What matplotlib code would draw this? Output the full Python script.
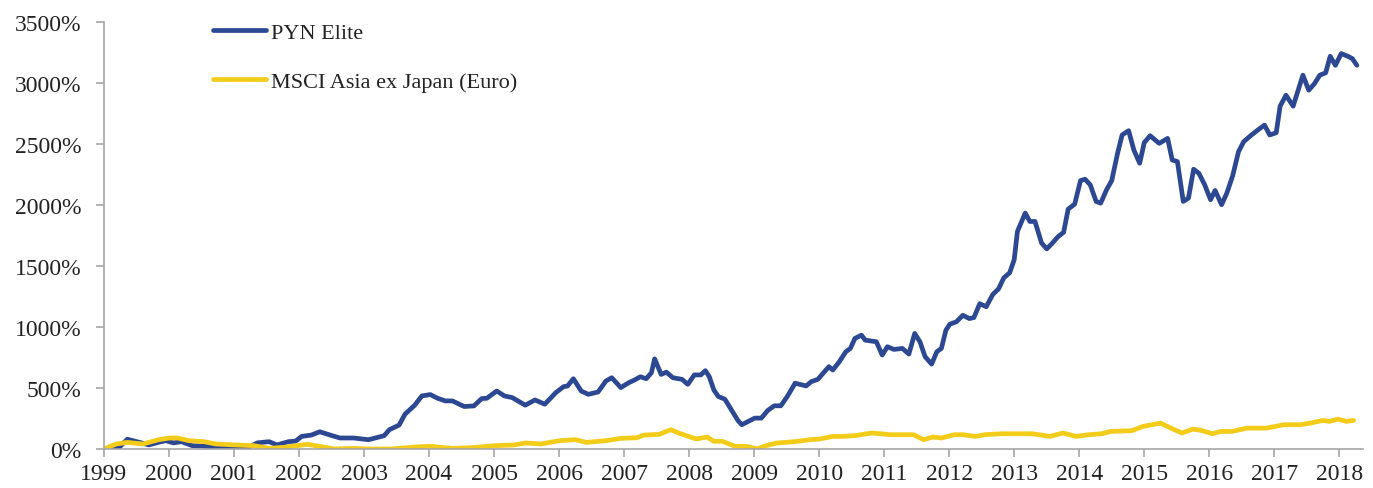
import numpy as np
import matplotlib
matplotlib.use("Agg")
import matplotlib.pyplot as plt
from matplotlib.ticker import FuncFormatter

# PYN Elite cumulative return (%)
pyn_t = [1999.00, 1999.22, 1999.36, 1999.54, 1999.69, 1999.84, 1999.95, 2000.07, 2000.19, 2000.36,
         2000.54, 2000.72, 2000.89, 2001.01, 2001.19, 2001.36, 2001.54, 2001.66, 2001.84, 2001.95,
         2002.04, 2002.19, 2002.32, 2002.48, 2002.63, 2002.84, 2003.07, 2003.31, 2003.39, 2003.54,
         2003.63, 2003.78, 2003.89, 2004.02, 2004.13, 2004.25, 2004.36, 2004.54, 2004.69, 2004.81,
         2004.89, 2005.04, 2005.16, 2005.28, 2005.48, 2005.63, 2005.78, 2005.95, 2006.07, 2006.13,
         2006.22, 2006.34, 2006.45, 2006.60, 2006.72, 2006.81, 2006.95, 2007.07, 2007.16, 2007.25,
         2007.34, 2007.42, 2007.47, 2007.57, 2007.65, 2007.75, 2007.89, 2007.98, 2008.08, 2008.18,
         2008.25, 2008.31, 2008.38, 2008.45, 2008.55, 2008.65, 2008.75, 2008.81, 2008.91, 2009.01,
         2009.11, 2009.21, 2009.31, 2009.41, 2009.51, 2009.63, 2009.80, 2009.88, 2009.98, 2010.15,
         2010.21, 2010.31, 2010.41, 2010.48, 2010.55, 2010.65, 2010.71, 2010.88, 2010.97, 2011.05,
         2011.15, 2011.28, 2011.38, 2011.47, 2011.55, 2011.63, 2011.73, 2011.81, 2011.88, 2011.95,
         2012.01, 2012.11, 2012.21, 2012.31, 2012.38, 2012.47, 2012.57, 2012.67, 2012.76, 2012.84,
         2012.93, 2013.00, 2013.05, 2013.17, 2013.24, 2013.32, 2013.42, 2013.50, 2013.58, 2013.67,
         2013.76, 2013.83, 2013.93, 2014.02, 2014.09, 2014.17, 2014.26, 2014.33, 2014.42, 2014.50,
         2014.59, 2014.66, 2014.76, 2014.84, 2014.93, 2015.00, 2015.09, 2015.23, 2015.36, 2015.43,
         2015.51, 2015.60, 2015.68, 2015.76, 2015.84, 2015.93, 2016.02, 2016.09, 2016.19, 2016.27,
         2016.36, 2016.45, 2016.53, 2016.65, 2016.76, 2016.85, 2016.93, 2017.03, 2017.09, 2017.18,
         2017.29, 2017.36, 2017.44, 2017.53, 2017.62, 2017.70, 2017.79, 2017.86, 2017.94, 2018.03,
         2018.13, 2018.20, 2018.27]
pyn_v = [0, 5, 80, 55, 33, 55, 68, 50, 60, 27,
         22, 14, 5, 22, 5, 50, 60, 33, 60, 65,
         103, 114, 141, 114, 90, 90, 76, 109, 158, 196,
         285, 359, 435, 446, 416, 394, 394, 348, 353, 413,
         416, 475, 435, 421, 359, 402, 367, 462, 511, 516,
         576, 475, 448, 467, 557, 584, 503, 543, 565, 592,
         576, 625, 739, 611, 630, 584, 571, 530, 607, 607,
         642, 593, 484, 430, 408, 321, 234, 199, 226, 253,
         253, 316, 354, 354, 430, 539, 517, 552, 571, 675,
         647, 715, 797, 824, 906, 933, 892, 879, 770, 838,
         816, 824, 778, 947, 879, 756, 696, 797, 824, 974,
         1023, 1042, 1096, 1069, 1077, 1191, 1166, 1266, 1313, 1403,
         1444, 1552, 1784, 1934, 1865, 1865, 1689, 1640, 1683, 1738,
         1776, 1966, 2007, 2200, 2211, 2165, 2029, 2015, 2124, 2200,
         2424, 2574, 2609, 2451, 2342, 2511, 2568, 2505, 2546, 2369,
         2356, 2029, 2056, 2293, 2260, 2165, 2043, 2119, 2002, 2097,
         2239, 2437, 2519, 2574, 2620, 2655, 2574, 2592, 2810, 2900,
         2810, 2928, 3064, 2941, 2996, 3064, 3083, 3219, 3145, 3241,
         3219, 3200, 3145]

# MSCI Asia ex Japan (Euro) cumulative return (%)
msci_t = [1999.00, 1999.19, 1999.36, 1999.60, 1999.84, 2000.01, 2000.13, 2000.31, 2000.54, 2000.72,
          2001.01, 2001.31, 2001.54, 2001.78, 2002.13, 2002.31, 2002.54, 2002.84, 2003.07, 2003.42,
          2003.78, 2004.01, 2004.36, 2004.66, 2005.01, 2005.31, 2005.48, 2005.72, 2006.01, 2006.25,
          2006.42, 2006.72, 2006.95, 2007.19, 2007.31, 2007.54, 2007.72, 2007.84, 2008.01, 2008.11,
          2008.28, 2008.38, 2008.51, 2008.71, 2008.88, 2009.05, 2009.18, 2009.35, 2009.48, 2009.68,
          2009.85, 2010.01, 2010.21, 2010.35, 2010.55, 2010.81, 2010.95, 2011.08, 2011.45, 2011.61,
          2011.75, 2011.88, 2012.08, 2012.21, 2012.41, 2012.55, 2012.81, 2013.28, 2013.55, 2013.75,
          2013.95, 2014.15, 2014.35, 2014.48, 2014.81, 2014.98, 2015.25, 2015.41, 2015.58, 2015.75,
          2015.88, 2016.05, 2016.18, 2016.35, 2016.58, 2016.88, 2017.15, 2017.41, 2017.55, 2017.75,
          2017.85, 2017.98, 2018.11, 2018.22]
msci_v = [0, 41, 54, 41, 76, 90, 90, 68, 60, 41,
          33, 27, 5, 14, 38, 22, 0, 5, 0, 0,
          16, 22, 5, 11, 27, 33, 49, 41, 68, 76,
          54, 68, 87, 92, 114, 120, 158, 130, 100, 82,
          98, 63, 63, 22, 22, 0, 27, 49, 54, 63,
          76, 82, 103, 103, 109, 131, 125, 117, 117, 76,
          98, 90, 117, 117, 103, 117, 125, 125, 103, 131,
          103, 117, 125, 144, 150, 185, 212, 171, 131, 163,
          152, 125, 144, 144, 171, 171, 199, 199, 212, 234,
          226, 245, 226, 234]

years = list(range(1999, 2019))
y_ticks = list(range(0, 3501, 500))

plt.rcParams['font.family'] = ['Liberation Serif', 'DejaVu Serif']

fig = plt.figure(figsize=(13.73, 4.89), dpi=100)
ax = fig.add_axes([0.0757, 0.0798, 0.9168, 0.8732])

ax.plot(pyn_t, pyn_v, color='#2D4892', lw=3.4, label='PYN Elite',
        solid_joinstyle='round', solid_capstyle='round')
ax.plot(msci_t, msci_v, color='#F3CB19', lw=3.4, label='MSCI Asia ex Japan (Euro)',
        solid_joinstyle='round', solid_capstyle='round')

ax.set_xlim(1999, 2018.36)
ax.set_ylim(0, 3500)
ax.set_xticks(years)
ax.set_yticks(y_ticks)
ax.yaxis.set_major_formatter(FuncFormatter(lambda v, p: f'{int(v)}%'))

for s in ['top', 'right']:
    ax.spines[s].set_visible(False)
for s in ['left', 'bottom']:
    ax.spines[s].set_color('#A6A6A6')
    ax.spines[s].set_linewidth(1.2)
ax.tick_params(axis='both', colors='#A6A6A6', labelcolor='#222222',
               labelsize=17, length=6, width=1.2)
ax.tick_params(axis='y', pad=10)
ax.tick_params(axis='x', pad=4)

leg = ax.legend(loc='upper left', bbox_to_anchor=(0.087, 1.0), frameon=False,
                fontsize=16, handlelength=2.35, handletextpad=0.25,
                labelspacing=1.3, borderaxespad=0, borderpad=0)
for t in leg.get_texts():
    t.set_color('#222222')

fig.savefig('out.png', dpi=100)
